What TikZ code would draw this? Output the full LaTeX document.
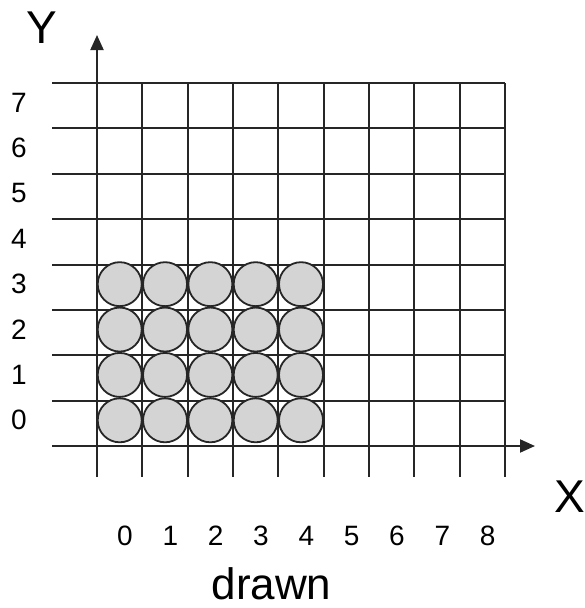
\documentclass[tikz,border=0pt]{standalone}
\usepackage{fontspec}
\setmainfont{Liberation Sans}
\usetikzlibrary{arrows.meta}
\begin{document}
\begin{tikzpicture}[x=1pt,y=-1pt,
  gridline/.style={line width=2pt,black!85},
  axisline/.style={line width=2pt,black!85,-{Triangle[length=15pt,width=13pt]}},
  ball/.style={circle,draw=black!85,line width=1.8pt,fill=black!17,minimum size=44pt,inner sep=0pt},
  numlabel/.style={inner sep=0pt,font=\fontsize{28}{30}\selectfont},
  axislabel/.style={inner sep=0pt,font=\fontsize{46}{48}\selectfont},
  caption/.style={inner sep=0pt,font=\fontsize{44}{46}\selectfont}]
\useasboundingbox (0,0) rectangle (584,608);
\def\dx{45.33}
\def\dy{45.375}
% grid
\foreach \j in {0,...,7}{
  \draw[gridline] (52,{83+\dy*\j}) -- (505,{83+\dy*\j});
}
\foreach \i in {1,...,9}{
  \draw[gridline] ({97+\dx*\i},83) -- ({97+\dx*\i},477);
}
% axes
\coordinate (yo) at (97,477);
\coordinate (yt) at (97,35);
\coordinate (xo) at (52,446);
\coordinate (xt) at (535,446);
\draw[axisline] (yo) -- (yt);
\draw[axisline] (xo) -- (xt);
% balls
\foreach \c in {0,...,4}{
  \foreach \r in {0,...,3}{
    \node[ball] (b\c\r) at ({119.7+\dx*\c},{420.3-\dy*\r}) {};
  }
}
% labels
\foreach \k in {0,...,7}{
  \node[numlabel] (yl\k) at (19,{420.3-\dy*\k}) {\k};
}
\foreach \i in {0,...,8}{
  \node[numlabel] (xl\i) at ({125+\dx*\i},536) {\i};
}
\node[axislabel] (ylab) at (42,28) {Y};
\node[axislabel] (xlab) at (570,497) {X};
\node[caption] (cap) at (271.5,584) {drawn};
\end{tikzpicture}
\end{document}
